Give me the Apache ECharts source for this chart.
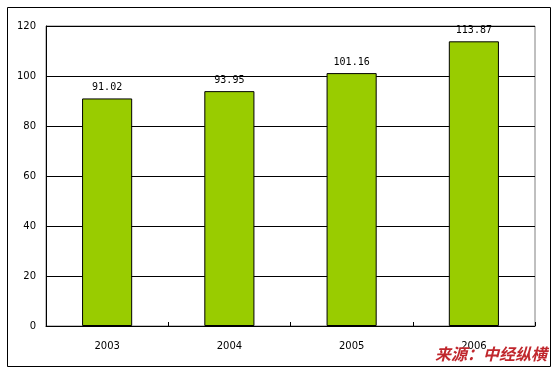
<!DOCTYPE html>
<html><head><meta charset="utf-8">
<script src="https://cdn.jsdelivr.net/npm/echarts@6/dist/echarts.min.js"></script>
<style>html,body{margin:0;padding:0;background:#fff}#c{width:553px;height:368px}</style>
</head><body><div id="c"></div>
<script>
const categories = ['2003', '2004', '2005', '2006'];
const values = [91.02, 93.95, 101.16, 113.87];
const valueLabels = ['91.02', '93.95', '101.16', '113.87'];
const sourceText = '来源：中经纵横';

const chart = echarts.init(document.getElementById('c'));
chart.setOption({
  animation: false,
  backgroundColor: '#fff',
  grid: { left: 46, right: 18, top: 26, bottom: 42, show: true, borderColor: '#808080', borderWidth: 1 },
  xAxis: {
    type: 'category', data: categories,
    axisLine: { lineStyle: { color: '#000', width: 1 } },
    axisTick: { show: true, inside: true, length: 4, lineStyle: { color: '#000' } },
    axisLabel: { color: '#000', fontFamily: 'DejaVu Sans', fontSize: 10, margin: 15 }
  },
  yAxis: {
    type: 'value', min: 0, max: 120, interval: 20,
    axisLine: { show: true, lineStyle: { color: '#000' } },
    axisTick: { show: false },
    axisLabel: { color: '#000', fontFamily: 'DejaVu Sans', fontSize: 10, margin: 10 },
    splitLine: { lineStyle: { color: '#000', width: 1 } }
  },
  series: [{
    type: 'bar', data: values, barWidth: '41%',
    itemStyle: { color: '#99CC00', borderColor: '#000', borderWidth: 1 },
    label: { show: true, position: 'top', distance: 6, color: '#000', fontFamily: 'DejaVu Sans Mono', fontSize: 10,
      formatter: p => valueLabels[p.dataIndex] }
  }],
  graphic: [
    { type: 'rect', left: 5, top: 5, shape: { width: 543, height: 359 }, style: { fill: null, stroke: '#000', lineWidth: 1 }, z: 100 },
    { type: 'text', right: 6, bottom: 6, style: { text: sourceText, fill: '#C0272D', font: 'italic bold 16px "Noto Sans CJK SC"' }, z: 101 }
  ]
});
</script></body></html>
